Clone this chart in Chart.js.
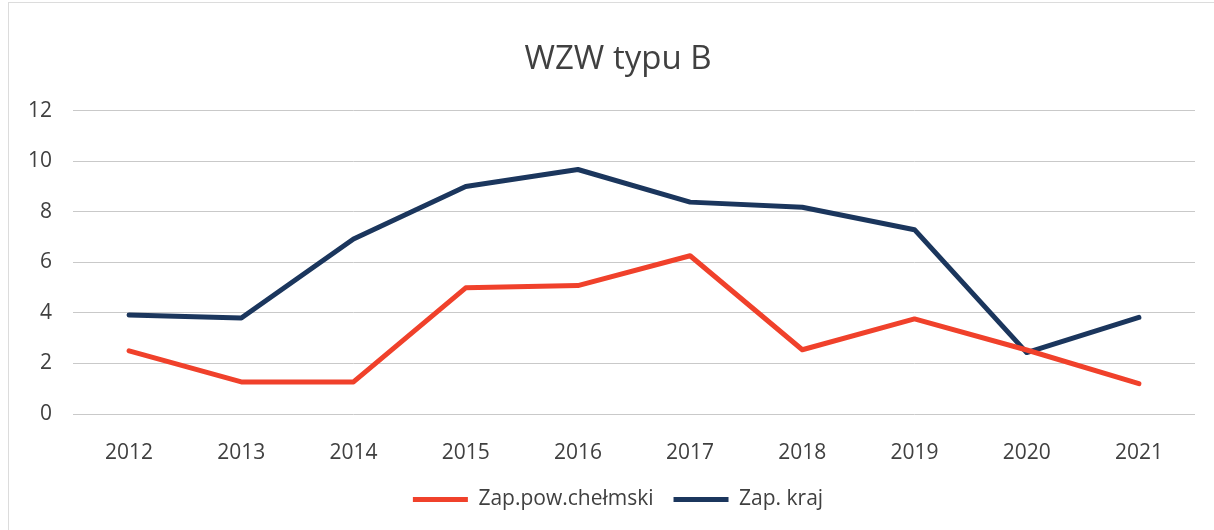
<!DOCTYPE html>
<html lang="pl">
<head>
    <meta charset="UTF-8">
    <title>WZW typu B</title>
    <script src="https://cdn.jsdelivr.net/npm/chart.js"></script>
    <style>
        html, body {
            margin: 0;
            padding: 0;
            background: #ffffff;
        }
        .chart-container {
            position: relative;
            width: 1214px;
            height: 530px;
        }
        .frame {
            position: absolute;
            left: 8px;
            top: 2px;
            width: 1210px;
            height: 540px;
            border: 1px solid #dcdcdc;
            pointer-events: none;
        }
    </style>
</head>
<body>
    <div class="chart-container">
        <canvas id="trendChart" width="1214" height="530"></canvas>
        <div class="frame"></div>
    </div>

    <script>
        // Data
        const years = ['2012', '2013', '2014', '2015', '2016', '2017', '2018', '2019', '2020', '2021'];
        const powChelmski = [2.5, 1.27, 1.27, 4.99, 5.08, 6.26, 2.54, 3.76, 2.53, 1.2];
        const kraj = [3.92, 3.8, 6.92, 9.0, 9.67, 8.38, 8.18, 7.29, 2.43, 3.82];
        const yTicks = [0, 2, 4, 6, 8, 10, 12];

        const textColor = '#404040';
        const fontFamily = '"Open Sans", "Noto Sans", sans-serif';

        const ctx = document.getElementById('trendChart').getContext('2d');

        new Chart(ctx, {
            type: 'line',
            data: {
                labels: years,
                datasets: [
                    {
                        label: 'Zap.pow.chełmski',
                        data: powChelmski,
                        borderColor: '#f0412b',
                        backgroundColor: '#f0412b',
                        borderWidth: 5,
                        pointRadius: 0,
                        tension: 0,
                        borderCapStyle: 'round',
                        borderJoinStyle: 'round'
                    },
                    {
                        label: 'Zap. kraj',
                        data: kraj,
                        borderColor: '#1b365d',
                        backgroundColor: '#1b365d',
                        borderWidth: 5,
                        pointRadius: 0,
                        tension: 0,
                        borderCapStyle: 'round',
                        borderJoinStyle: 'round'
                    }
                ]
            },
            options: {
                responsive: false,
                animation: false,
                layout: {
                    // left padding shifts title/legend centre to the right like the original
                    padding: { left: 22, right: 0, top: 0, bottom: 10 }
                },
                plugins: {
                    title: {
                        display: true,
                        text: 'WZW typu B',
                        color: textColor,
                        font: { family: fontFamily, size: 33, weight: 'normal' },
                        padding: { top: 40, bottom: 31 }
                    },
                    legend: {
                        position: 'bottom',
                        labels: {
                            color: textColor,
                            font: { family: fontFamily, size: 21 },
                            usePointStyle: true,
                            pointStyle: 'line',
                            pointStyleWidth: 55,
                            padding: 20
                        }
                    },
                    tooltip: { enabled: false }
                },
                scales: {
                    x: {
                        offset: true,
                        grid: { display: false },
                        border: { display: false },
                        ticks: {
                            color: textColor,
                            font: { family: fontFamily, size: 21 },
                            padding: 18
                        },
                        afterFit: (scale) => { scale.height = 55; }
                    },
                    y: {
                        min: 0,
                        max: 12,
                        afterBuildTicks: (scale) => {
                            scale.ticks = yTicks.map(v => ({ value: v }));
                        },
                        grid: {
                            color: '#c9c9c9',
                            lineWidth: 1,
                            drawTicks: false
                        },
                        border: { display: false },
                        ticks: {
                            color: textColor,
                            font: { family: fontFamily, size: 21 },
                            padding: 21
                        },
                        afterFit: (scale) => { scale.width = 51; }
                    },
                    // empty spacer on the right so the plot ends where the original does
                    spacer: {
                        type: 'linear',
                        position: 'right',
                        grid: { display: false },
                        border: { display: false },
                        ticks: { display: false },
                        afterFit: (scale) => { scale.width = 19; }
                    }
                }
            }
        });
    </script>
</body>
</html>
